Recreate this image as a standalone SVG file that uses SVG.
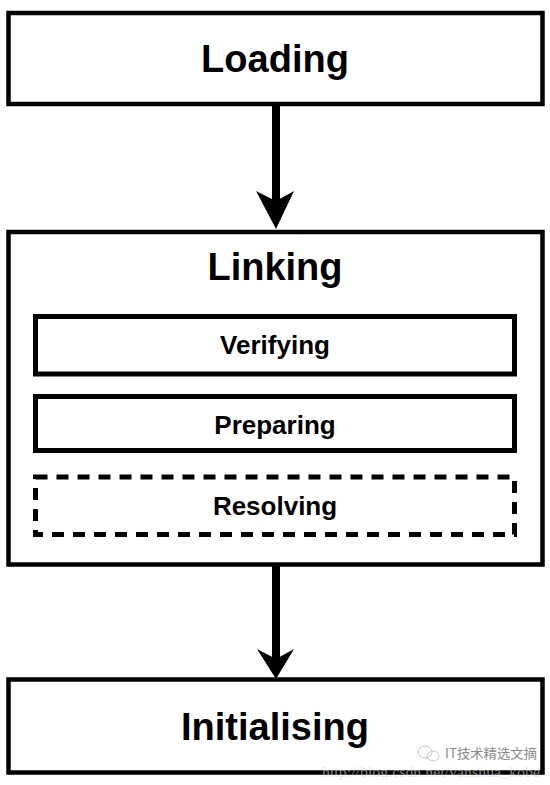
<svg xmlns="http://www.w3.org/2000/svg" width="550" height="785" viewBox="0 0 550 785">
<style>
.box{fill:#fff;stroke:#000;stroke-width:4.5}
.sub{fill:#fff;stroke:#000;stroke-width:5}
.dash{fill:none;stroke:#000;stroke-width:5;stroke-dasharray:12 9}
.big{font-family:"Liberation Sans",Arial,sans-serif;font-weight:bold;font-size:38px;text-anchor:middle;fill:#000}
.small{font-family:"Liberation Sans",Arial,sans-serif;font-weight:bold;font-size:26px;text-anchor:middle;fill:#000}
.shaft{stroke:#000;stroke-width:8;fill:none}
.head{fill:#000}
.wm{font-family:"Noto Sans CJK SC","Liberation Sans",sans-serif;font-size:13px;fill:#8a8a8a}
.url{font-family:"Liberation Serif",serif;font-size:14px;fill:#d8d8d8;fill-opacity:0.6}
</style>
<rect width="550" height="785" fill="#fff"/>
<g id="loading">
<rect class="box" x="8.5" y="13" width="534" height="91"/>
<text class="big" x="275" y="72">Loading</text>
</g>
<g id="linking">
<rect class="box" x="8.5" y="232" width="534" height="332.5"/>
<text class="big" x="275" y="280">Linking</text>
</g>
<g id="verifying">
<rect class="sub" x="35.5" y="316.5" width="479" height="57.5"/>
<text class="small" x="275" y="354">Verifying</text>
</g>
<g id="preparing">
<rect class="sub" x="35.5" y="396.5" width="479" height="54"/>
<text class="small" x="275" y="434">Preparing</text>
</g>
<g id="resolving">
<rect class="dash" x="35.5" y="477" width="479" height="57.5"/>
<text class="small" x="275" y="515">Resolving</text>
</g>
<g id="initialising">
<rect class="box" x="8.5" y="679.5" width="534" height="93"/>
<text class="big" x="275" y="740">Initialising</text>
</g>
<g id="connectors">
<line class="shaft" x1="276" y1="106" x2="276" y2="205"/>
<polygon class="head" points="256,191 276,201 294,191 276,229"/>
<line class="shaft" x1="276" y1="566" x2="276" y2="663"/>
<polygon class="head" points="257,649 276,659 294,649 276,679"/>
</g>
<g id="watermark">
<ellipse cx="425" cy="752" rx="7" ry="6" fill="none" stroke="#c8c8c8" stroke-width="1"/>
<ellipse cx="433" cy="756" rx="6" ry="5" fill="none" stroke="#c8c8c8" stroke-width="1"/>
<text class="wm" x="445" y="758" textLength="92" lengthAdjust="spacingAndGlyphs">IT技术精选文摘</text>
<text class="url" x="322" y="777" textLength="218" lengthAdjust="spacingAndGlyphs">http://blog.csdn.net/vanshua_kobe</text>
</g>
</svg>
